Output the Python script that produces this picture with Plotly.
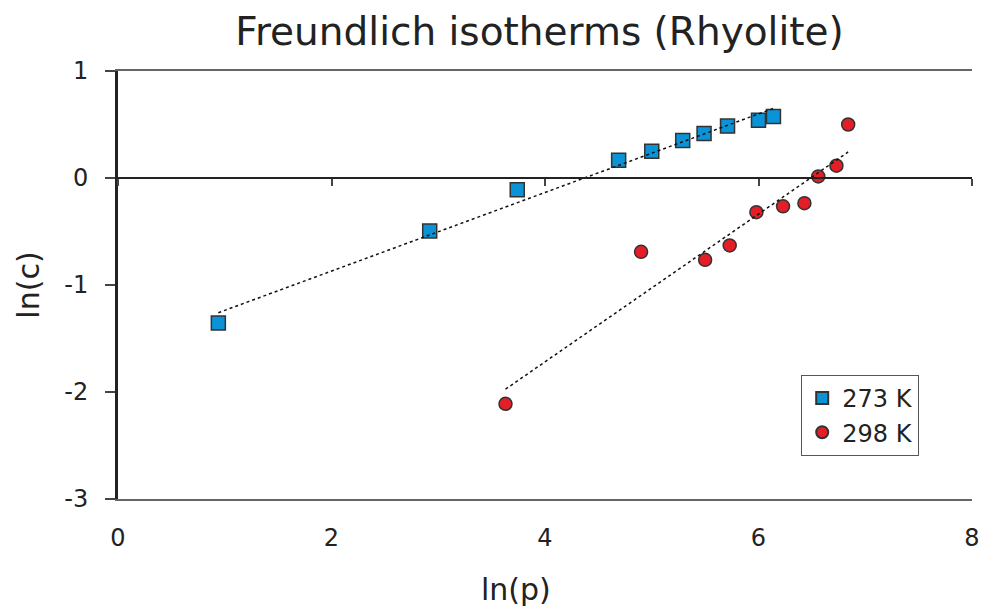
import numpy as np
import plotly.graph_objects as go

# ln(p) / ln(c) measurements for the two temperatures
lnp_273 = [0.94, 2.92, 3.74, 4.69, 5.00, 5.29, 5.49, 5.71, 6.00, 6.14]
lnc_273 = [-1.355, -0.495, -0.11, 0.165, 0.25, 0.35, 0.415, 0.485, 0.54, 0.575]

lnp_298 = [3.63, 4.90, 5.50, 5.73, 5.98, 6.23, 6.43, 6.56, 6.73, 6.84]
lnc_298 = [-2.11, -0.69, -0.765, -0.63, -0.32, -0.265, -0.235, 0.015, 0.115, 0.50]

x_ticks = [0, 2, 4, 6, 8]
y_ticks = [1, 0, -1, -2, -3]
y_tick_text = ["1", "0", "-1", "-2", "-3"]

FONT = "DejaVu Sans"


def fit_line(x, y):
    slope, icpt = np.polyfit(x, y, 1)
    xs = np.array([min(x), max(x)])
    return xs, slope * xs + icpt


fig = go.Figure()

for lx, ly in [(lnp_273, lnc_273), (lnp_298, lnc_298)]:
    fx, fy = fit_line(lx, ly)
    fig.add_trace(go.Scatter(x=fx, y=fy, mode="lines", xaxis="x2",
                             line=dict(color="#111111", width=1.5, dash="dot"),
                             showlegend=False, hoverinfo="skip"))

fig.add_trace(go.Scatter(x=lnp_273, y=lnc_273, mode="markers", name="273 K",
                         marker=dict(symbol="square", size=14, color="#0a93d6",
                                     line=dict(color="#333333", width=1.5))))
fig.add_trace(go.Scatter(x=lnp_298, y=lnc_298, mode="markers", name="298 K",
                         marker=dict(symbol="circle", size=13, color="#e41e26",
                                     line=dict(color="#333333", width=1.5))))

fig.update_layout(
    width=990, height=611,
    margin=dict(l=118, r=10, t=71, b=112),
    paper_bgcolor="white", plot_bgcolor="white",
    font=dict(family=FONT, color="#222222", size=24),
    title=dict(text="Freundlich isotherms (Rhyolite)", x=0.545, xanchor="center",
               y=0.948, yanchor="middle",
               font=dict(family=FONT, size=39, color="#222222")),
    xaxis=dict(range=[0, 8], tickvals=x_ticks, ticks="", showgrid=False,
               zeroline=False, showline=True, linecolor="#666666", linewidth=2,
               mirror=True, ticklabelstandoff=16,
               tickfont=dict(size=24)),
    xaxis2=dict(range=[0, 8], overlaying="x", anchor="free", position=0.75,
                side="bottom", tickvals=x_ticks, ticks="outside", ticklen=7,
                tickwidth=2, tickcolor="#444444", showticklabels=False,
                showgrid=False, zeroline=False, showline=True,
                linecolor="#222222", linewidth=2),
    yaxis=dict(range=[-3, 1], tickvals=y_ticks, ticktext=y_tick_text,
               ticks="outside", ticklen=10, ticklabelstandoff=12,
               tickwidth=1.5, tickcolor="#444444", showgrid=False,
               zeroline=False, showline=True, linecolor="#222222", linewidth=3,
               tickfont=dict(size=24),
               title=dict(text="ln(c)", font=dict(size=30), standoff=16)),
    yaxis2=dict(range=[-3, 1], overlaying="y", side="right", showgrid=False,
                zeroline=False, showticklabels=False, ticks="",
                showline=True, linecolor="#666666", linewidth=2),
    legend=dict(x=0.80, y=0.29, xanchor="left", yanchor="top",
                bgcolor="white", bordercolor="#555555", borderwidth=1,
                font=dict(size=24), itemsizing="constant",
                entrywidth=110, tracegroupgap=4),
    showlegend=True,
    annotations=[dict(text="ln(p)", xref="paper", yref="paper",
                      x=0.466, y=-0.2126, xanchor="center", yanchor="middle",
                      showarrow=False, font=dict(size=30))],
)

fig.write_html("out.html")
